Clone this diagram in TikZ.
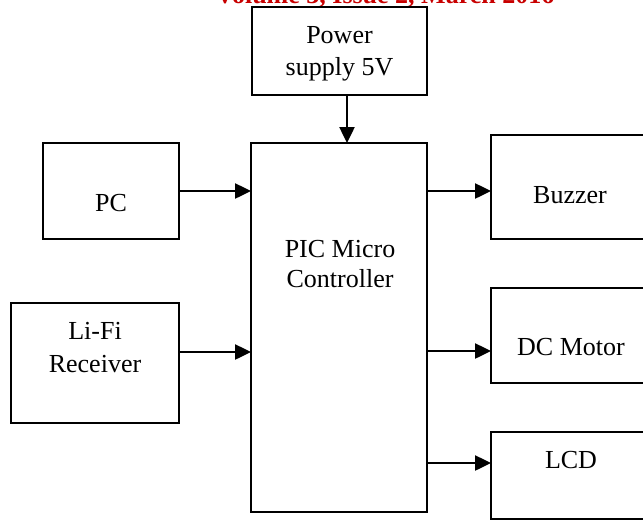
\documentclass[tikz,border=0pt]{standalone}
\usepackage{fontspec}
\setmainfont{Liberation Serif}
\usetikzlibrary{arrows.meta}
\definecolor{hdrred}{RGB}{200,0,0}
\begin{document}
\begin{tikzpicture}[x=1pt,y=-1pt,
  box/.style={draw=black,line width=1.7pt,inner sep=0pt,outer sep=0pt,fill=none},
  lbl/.style={anchor=base,inner sep=0pt,font=\fontsize{26}{32}\selectfont},
  arr/.style={line width=2.5pt,-{Triangle[length=16pt,width=15pt]}}]
\useasboundingbox (0,0) rectangle (643,520);
\fill[white] (0,0) rectangle (643,520);
% header (cut off at the top edge, as in the reference)
\node[anchor=base,inner sep=0pt,text=hdrred,font=\fontsize{26}{32}\selectfont\bfseries] (hdr) at (385,3.5) {Volume 3, Issue 2, March 2016};
% boxes
\node[box,minimum width=175pt,minimum height=88pt] (power) at (339.5,51) {};
\node[box,minimum width=136pt,minimum height=96pt] (pc) at (111,191) {};
\node[box,minimum width=168pt,minimum height=120pt] (lifi) at (95,363) {};
\node[box,minimum width=176pt,minimum height=369pt] (pic) at (339,327.5) {};
\node[box,minimum width=160pt,minimum height=104pt] (buzzer) at (571,187) {};
\node[box,minimum width=160pt,minimum height=95pt] (dc) at (571,335.5) {};
\node[box,minimum width=160pt,minimum height=87pt] (lcd) at (571,475.5) {};
% labels
\node[lbl] (t1) at (339.5,43) {Power};
\node[lbl] (t2) at (339.5,75) {supply 5V};
\node[lbl] (t3) at (111,211) {PC};
\node[lbl] (t4) at (95,339) {Li-Fi};
\node[lbl] (t5) at (95,372) {Receiver};
\node[lbl] (t6) at (340,257) {PIC Micro};
\node[lbl] (t7) at (340,287) {Controller};
\node[lbl] (t8) at (570,203) {Buzzer};
\node[lbl] (t9) at (571,355) {DC Motor};
\node[lbl] (t10) at (571,468) {LCD};
% connector levels
\coordinate (pw) at (347,0);
\coordinate (ly) at (0,352);
\coordinate (by) at (0,191);
\coordinate (dy) at (0,351);
\coordinate (cy) at (0,463);
% connectors
\draw[arr] (power.south -| pw) -- (pic.north -| pw);
\draw[arr] (pc.east) -- (pc.east -| pic.west);
\draw[arr] (lifi.east |- ly) -- (pic.west |- ly);
\draw[arr] (pic.east |- by) -- (buzzer.west |- by);
\draw[arr] (pic.east |- dy) -- (dc.west |- dy);
\draw[arr] (pic.east |- cy) -- (lcd.west |- cy);
\end{tikzpicture}
\end{document}
